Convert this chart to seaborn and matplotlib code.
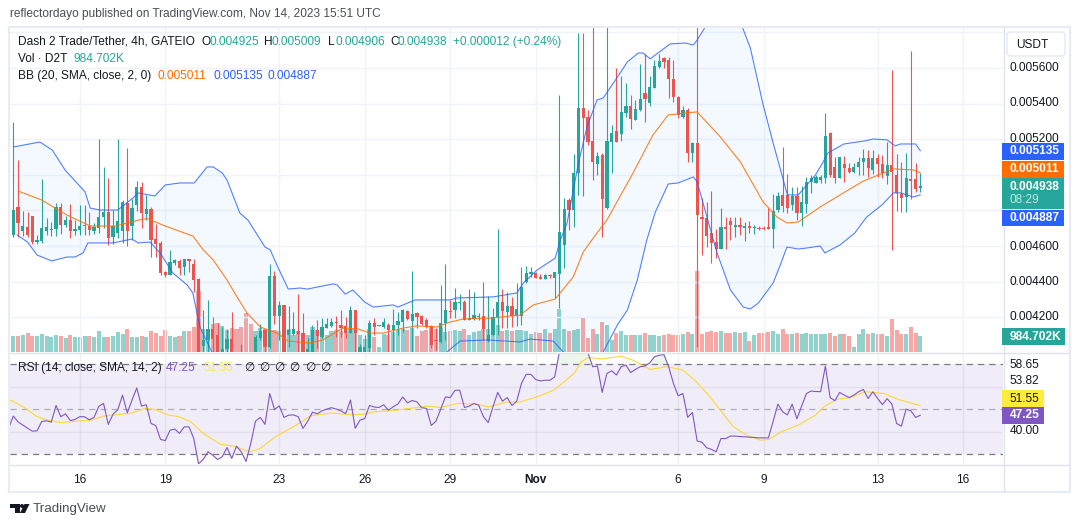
import numpy as np
import matplotlib
matplotlib.use("Agg")
import matplotlib.pyplot as plt
from matplotlib.patches import Rectangle, FancyBboxPatch, Polygon, Circle
import seaborn as sns

# prices in millionths of a USDT, one row per 10 candles (4h bars)
opens = [4662,4817,4684,4707,4769,4622,4628,4684,4692,4695,
         4817,4718,4746,4684,4690,4714,4714,4684,4703,4763,
         4791,4649,4671,4684,4840,4712,4830,4930,4780,4808,
         4639,4615,4454,4437,4503,4516,4482,4527,4499,4415,
         4040,4072,4135,4100,4000,4019,4077,3980,3990,3950,
         3950,4000,4081,4128,4034,4431,4208,4268,4100,4107,
         4120,4109,4000,4000,4128,4090,4141,4150,4173,4156,
         4150,4113,4240,4000,4000,4025,4169,4150,4147,4158,
         4128,4156,4175,4237,4181,4222,4207,4184,4151,4072,
         4062,4169,4235,4240,4278,4284,4184,4190,4203,4207,
         4068,4100,4199,4284,4231,4265,4207,4207,4400,4443,
         4450,4428,4417,4432,4422,4443,4606,4859,4804,5012,
         5377,5327,5190,5061,5111,4812,5186,5246,5229,5349,
         5387,5308,5364,5462,5405,5486,5604,5655,5645,5538,
         5435,5327,5364,5121,5181,4761,4759,4671,4624,4585,
         4709,4741,4709,4718,4703,4712,4701,4703,4703,4705,
         4696,4802,4887,4887,4830,4883,4784,4836,4958,4952,
         4971,4980,5237,5042,4984,5061,5036,5014,5042,5070,
         5093,5027,5093,5061,4995,5055,4999,4892,4877,4977,4977,4925]
highs = [5297,5083,4799,4789,4769,4662,4976,4755,4737,4840,
         4840,4769,4836,4746,4828,4828,4793,4727,5201,5044,
         4982,4802,5201,4858,5150,4862,4965,4958,4887,4817,
         4724,4628,4460,4577,4529,4525,4529,4529,4527,4420,
         4240,4297,4199,4165,4147,4132,4227,4000,4047,3960,
         3960,4100,4162,4132,4499,4459,4293,4268,4263,4227,
         4330,4222,4081,4156,4184,4193,4193,4193,4208,4240,
         4203,4263,4240,4050,4100,4184,4194,4155,4194,4165,
         4246,4231,4246,4240,4460,4231,4212,4194,4156,4138,
         4381,4499,4297,4362,4330,4297,4358,4340,4222,4396,
         4321,4250,4694,4357,4343,4315,4394,4484,4488,4484,
         4454,4443,4440,4440,4456,5449,4868,4868,5115,5799,
         5799,5364,5900,5126,5121,5900,5280,5602,5552,5514,
         5449,5420,5623,5677,5552,5645,5677,5664,5664,5645,
         5443,5387,5374,5186,5900,4868,4845,4909,4694,4812,
         4765,4765,4765,4765,4737,4741,4718,4712,4710,4812,
         4892,4902,5158,5005,4933,4933,4937,4990,4999,4999,
         4999,5349,5241,5102,5098,5106,5065,5065,5102,5143,
         5140,5140,5117,5111,5186,5589,5117,5074,5121,5696,5065,5009]
lows = [4652,4652,4656,4652,4611,4611,4619,4662,4658,4658,
        4667,4705,4647,4662,4662,4662,4662,4667,4671,4699,
        4606,4611,4643,4619,4600,4634,4799,4703,4746,4540,
        4536,4437,4424,4437,4493,4437,4437,4456,4343,3980,
        3980,3980,3980,3980,3980,3980,3980,3940,3940,3930,
        3930,3980,4072,3980,4025,4162,4072,3980,4034,4100,
        3980,3980,3980,3980,4025,4081,4137,4147,4090,4090,
        4085,4109,3980,3980,3980,3980,4100,4148,4138,3980,
        3980,4100,4119,4184,3980,4138,4156,4138,4025,4016,
        4053,4072,4194,4194,4240,4184,4184,4184,4184,4072,
        4062,4100,4100,4138,4138,4147,4151,4156,4390,4428,
        4420,4415,4415,4422,4306,4250,4475,4690,4709,4887,
        4883,5168,4971,4999,4653,4808,5012,5186,5192,5327,
        5258,5308,5360,5299,5387,5486,5598,5598,5434,5411,
        5317,5321,5074,5070,4034,4550,4596,4503,4531,4581,
        4581,4634,4652,4662,4628,4671,4667,4690,4692,4694,
        4587,4793,4793,4787,4802,4746,4714,4787,4896,4952,
        4952,4956,4990,4952,4984,4958,5012,5008,4999,4999,
        4990,5005,4990,4984,4948,4578,4797,4793,4791,4864,4905,4906]
closes = [4802,4731,4712,4662,4621,4634,4701,4707,4695,4817,
          4718,4746,4686,4695,4712,4718,4690,4709,4763,4791,
          4647,4712,4740,4847,4686,4813,4930,4787,4808,4634,
          4611,4450,4437,4510,4521,4478,4527,4518,4409,3990,
          4072,4135,4077,3990,4019,4077,3990,3950,3960,3940,
          3940,4090,4124,4034,4431,4208,4268,3990,4128,4134,
          4105,3990,4021,4128,4096,4147,4162,4173,4165,4141,
          4113,4240,4110,4031,4034,4166,4147,4153,4173,4128,
          4156,4179,4240,4190,4218,4203,4162,4143,4044,4068,
          4169,4240,4231,4284,4284,4184,4194,4212,4207,4134,
          4100,4199,4284,4235,4265,4207,4246,4372,4447,4456,
          4422,4417,4435,4430,4452,4677,4808,4802,5008,5377,
          5321,5186,5074,5108,4864,5190,5233,5186,5351,5387,
          5314,5370,5426,5426,5495,5612,5640,5636,5538,5435,
          5336,5364,5121,5181,4774,4752,4656,4615,4581,4709,
          4696,4718,4718,4709,4712,4701,4705,4697,4698,4697,
          4799,4883,4827,4812,4881,4784,4849,4958,4980,4986,
          4986,5220,5000,4984,5098,5040,5018,5042,5070,5093,
          5036,5093,5061,5008,5055,5018,4896,4872,4980,4965,4920,4938]

# volume in thousands of D2T
volumes = [1008,1008,1071,1197,1008,1008,1134,1008,945,1071,
           1008,882,1071,945,945,1008,1008,945,1323,945,
           945,1008,1260,1134,1449,945,945,1008,945,1323,
           1197,1008,1386,1008,945,1008,1323,1323,1575,3843,
           1449,1386,1764,1827,1638,1386,1533,1449,1575,2436,
           1764,1323,1491,1428,1386,1386,1323,1386,1449,1071,
           1302,1197,1071,1596,1386,966,1071,1323,1386,1323,
           1302,1449,1491,1050,840,1470,945,315,1155,1050,
           1260,1365,1470,1407,1533,987,1302,1365,1617,1470,
           1575,1260,1302,1365,1302,1428,1050,1260,1302,1428,
           1470,1470,1680,1302,1365,1302,1365,1365,1302,1155,
           1260,1218,1470,1218,1470,2730,1470,1302,1365,1428,
           2205,882,1470,1155,1890,1680,777,1197,1302,1092,
           1050,1050,1050,1197,1050,1050,987,1050,1113,1050,
           1092,1113,1260,1113,5103,1113,1260,1323,1260,1302,
           1197,1197,1260,1197,1260,672,1092,1218,1218,1260,
           1302,1113,1428,1155,1155,1197,1155,1197,1155,1113,
           1113,1155,1197,987,1113,1113,987,315,1155,1428,
           1155,1218,1113,1113,1008,2058,1365,1155,1113,1554,1218,985]

# Bollinger lines read at their bends: candle number, price
bb_upper_at = [0,5.6,8.2,10.9,15.1,16.2,18.3,22,25.2,26.3,29.8,32,35.1,38.1,40.8,42.1,44,45,47.7,49.4,
               53,54.1,55.7,57.9,60.4,61.9,67.3,68.2,69.9,71.5,74,75.8,80,81,84.6,92,93.4,101,106,107.4,
               110.3,114.1,115.2,116.6,119,120.8,122.9,124.2,127.1,129.3,131.6,132.6,134.1,138.3,141.5,143.2,144,145.7,149.5,153.5,
               155.2,157.9,160,163,165.3,168.9,170.4,171.5,174.9,179.2,181.1,184,185.7,186.8,190,191]
bb_upper = [5156,5184,5139,5027,4904,4813,4802,4802,4870,4898,4881,4943,4954,4954,5044,5044,5010,4971,4785,4746,
            4594,4578,4482,4358,4364,4358,4387,4381,4330,4353,4285,4257,4269,4257,4297,4297,4308,4314,4336,4392,
            4465,4532,4634,4729,5066,5269,5420,5431,5544,5634,5684,5684,5651,5735,5740,5729,5757,5830,6010,5830,
            5712,5392,5179,4887,4887,4999,5066,5122,5173,5190,5201,5196,5162,5173,5173,5135]
bb_basis_at = [1,6,8.4,11.3,16.2,21.4,25,27.3,28.4,32,37.8,40,42.1,45,47.1,49.2,52,55.5,57.9,62.5,
               65.2,69.4,72.6,75.1,77.9,82.1,85,89.2,92,94.7,101,106.7,109.5,114.1,117.9,120,122.9,125,130.5,134.7,
               137.9,141.5,144,148.9,153.1,157.9,160.8,162.9,165.3,169.9,174.8,179,183.2,185.3,189.5,191]
bb_basis = [4909,4858,4819,4774,4712,4712,4735,4752,4752,4712,4656,4578,4521,4409,4314,4224,4145,4111,4066,4055,
            4072,4139,4134,4111,4111,4139,4151,4145,4173,4190,4196,4212,4269,4302,4426,4566,4673,4746,5010,5224,
            5336,5347,5353,5212,5072,4847,4763,4729,4735,4819,4898,4965,5010,5033,5027,5011]
bb_lower_at = [0.8,3,5,8.1,11.3,13,14.7,15.7,21,25,26.3,28.8,30.9,33.6,36.6,37.8,39.3,41.8,46,52,
               60,70,80,90,91.3,94.1,99.8,106.7,108.8,113.7,115.8,120,124.2,127.2,129.3,131.4,133.4,135.2,137.9,140,
               143.2,144,146.7,148.2,151,153.7,155.2,156.9,160,161.5,162.9,165.3,167.2,169.9,170.9,174.1,177.2,179.7,182.9,185.3,
               186.8,189.5,191]
bb_lower = [4662,4622,4549,4516,4538,4538,4561,4617,4617,4639,4617,4622,4561,4448,4381,4336,4145,4004,3750,3620,
            3650,3800,3880,3960,4004,4066,4072,4061,4077,4066,4004,3880,4004,4156,4240,4409,4634,4791,4948,4954,
            4988,4960,4701,4560,4353,4257,4246,4280,4392,4493,4594,4583,4589,4600,4561,4606,4673,4763,4830,4898,
            4898,4875,4887]

# RSI per candle, first value is the bar just left of the first candle
rsi = [41.4,46.9,44.3,42.9,41.5,40.2,40.3,44.5,44.8,44.2,51.6,46.6,47.9,44.9,45.4,46.6,46.6,45.2,46.3,51.2,
       52.5,43.2,47.7,49.7,56.2,48.3,54.0,59.4,51.3,51.9,43.6,42.7,36.5,36.0,40.6,41.1,39.2,42.1,42.1,36.9,
       25.7,27.6,31.0,29.5,27.6,28.8,32.9,28.1,33.5,31.0,26.7,34.7,44.6,46.3,43.2,56.9,49.8,51.4,46.3,47.3,
       47.4,46.6,41.4,44.6,48.6,47.9,49.2,50.0,50.6,50.0,49.2,48.0,54.0,41.5,45.1,45.8,51.6,50.9,50.7,51.9,
       49.5,51.0,52.3,55.4,52.8,53.8,53.2,50.6,50.3,42.7,44.6,50.0,55.4,55.1,58.3,58.4,50.7,51.3,52.5,51.7,
       46.6,44.0,51.0,57.4,53.5,55.1,51.6,53.5,61.4,65.4,65.4,63.1,62.5,62.8,62.8,64.3,75.5,78,77,80,
       82,78,75.0,68.8,69.1,57.4,65.8,67.0,65.1,68.8,69.5,66.2,67.6,68.8,69.1,70.5,73.2,73.9,74.2,68.8,
       61.4,55.9,56.9,46.3,48.5,35.8,35.3,32.8,32.1,31.0,36.9,36.9,38.0,38.0,37.8,37.7,37.5,37.4,37.2,37.2,
       37.2,44.6,52.2,48.8,47.4,52.2,45.7,51.3,56.9,58.0,57.8,57.7,69.1,55.1,53.7,57.4,56.2,55.1,56.2,57.7,
       58.7,54.7,57.7,54.7,52.0,54.6,52.2,43.6,42.4,50.0,49.2,46.3,47.25]
rsi_ma_at = [-0.6,0.8,2.6,4.8,6.6,9.9,13.2,16.4,19,22.6,25.1,27.7,29.8,32.7,34.9,37.4,40,43.6,46.5,49.8,
             52,55.2,59.6,62.5,66.8,69.7,73.3,76.2,80.6,83.5,87.1,90,93.6,97.3,100.2,103.8,106.7,110.9,113.8,116,
             118.2,119.6,121.1,124,127.9,130.5,134.1,137.7,141,143.5,146.4,151.5,154.4,157.3,159.1,161.7,165.3,168.9,170.7,173.3,
             176.2,179.4,183.4,186.3,191]
rsi_ma = [54.0,52.5,50.3,46.9,45.4,44.0,44.6,45.1,46.9,47.7,48.3,50.3,49.8,47.3,46.6,44.3,39.2,34.4,33.5,31.0,
          32.5,37.7,42.9,46.9,48.3,47.7,47.6,48.8,49.5,50.3,51.3,50.7,52.5,52.2,51.0,53.1,53.1,55.9,58.4,62.1,
          66.1,71.0,72.9,72.3,73.5,71.7,67.6,68.8,67.3,62.8,56.2,42.4,38.4,36.2,36.5,39.9,42.9,47.3,51.0,54.3,
          55.1,57.7,56.9,54.3,51.55]

price_levels = [4200,4400,4600,4800,5000,5200,5400,5600,5800]
price_labels = ["0.005600","0.005400","0.005200","0.004600","0.004400","0.004200"]
day_ticks = [14,32,56,74,92,110,140,158,182,200]
day_labels = ["16","19","23","26","29","Nov","6","9","13","16"]

UP = "#26a69a"
DOWN = "#ef5350"
BLUE = "#2962ff"
ORANGE = "#ff6d00"
PURPLE = "#7e57c2"
YELLOW = "#ffeb3b"
INK = "#131722"
GRID = "#f0f3fa"
W, H = 1080, 527

sns.set_theme(style="white")
plt.rcParams["font.family"] = ["Liberation Sans", "DejaVu Sans"]

fig = plt.figure(figsize=(W / 100, H / 100), dpi=100, facecolor="white")


def pane(left, top, right, bottom, z):
    a = fig.add_axes([left / W, 1 - bottom / H, (right - left) / W, (bottom - top) / H], zorder=z)
    a.patch.set_visible(False)
    sns.despine(ax=a, left=True, bottom=True)
    return a


xlim = (-0.695, 208.4)
idx = np.arange(len(opens))
o, h, l, c = [np.array(v, dtype=float) for v in (opens, highs, lows, closes)]
rising = c >= o

# volume sits behind the candles with its own scale
ax_vol = pane(10, 27, 1003, 352, 1)
sns.barplot(x=idx, y=volumes, hue=np.where(rising, "up", "down"), palette={"up": UP, "down": DOWN},
            native_scale=True, dodge=False, width=0.85, alpha=0.5, saturation=1, legend=False, linewidth=0, ax=ax_vol)
ax_vol.set(xlim=xlim, ylim=(0, 20425), xticks=[], yticks=[], xlabel="", ylabel="")

ax = pane(10, 27, 1003, 352, 2)
ax.set(xlim=xlim, ylim=(4004.5, 5830), xlabel="", ylabel="")
ax.set_yticks(price_levels)
ax.set_xticks(day_ticks)
ax.grid(True, color=GRID, lw=1)
ax.set_axisbelow(True)
ax.tick_params(length=0, labelleft=False, labelbottom=False)

ax.fill(np.r_[bb_upper_at, bb_lower_at[::-1]], np.r_[bb_upper, bb_lower[::-1]],
        color="#2196f3", alpha=0.05, lw=0, zorder=1)
colors = np.where(rising, UP, DOWN)
ax.vlines(idx, l, h, colors=colors, lw=0.8, zorder=3)
ax.bar(idx, np.maximum(np.abs(c - o), 5), bottom=np.minimum(o, c), width=0.68, color=colors, lw=0, zorder=4)
sns.lineplot(x=bb_upper_at, y=bb_upper, color="#2962ff", lw=0.8, alpha=0.8, sort=False, estimator=None, ax=ax, zorder=5)
sns.lineplot(x=bb_lower_at, y=bb_lower, color="#2962ff", lw=0.8, alpha=0.8, sort=False, estimator=None, ax=ax, zorder=5)
sns.lineplot(x=bb_basis_at, y=bb_basis, color=ORANGE, lw=0.8, alpha=0.85, sort=False, estimator=None, ax=ax, zorder=5)
ax.set(xlabel="", ylabel="")

# RSI pane
ax_rsi = pane(10, 353, 1003, 464, 3)
rsi_x = np.arange(-1, len(rsi) - 1)
rsi_v = np.array(rsi)
ax_rsi.set(xlim=xlim, ylim=(25.6, 74.9))
ax_rsi.axhspan(30, 70, color=PURPLE, alpha=0.1, lw=0, zorder=0)
ax_rsi.set_yticks([40, 60])
ax_rsi.set_xticks(day_ticks, labels=day_labels)
ax_rsi.grid(True, color="#131722", alpha=0.06, lw=1)
ax_rsi.set_axisbelow(True)
ax_rsi.tick_params(axis="x", length=0, pad=7, labelsize=8.6, colors=INK)
ax_rsi.tick_params(axis="y", length=0, labelleft=False)
ax_rsi.get_xticklabels()[5].set_fontweight("bold")
ax_rsi.axhline(70, color="#787b86", lw=0.9, dashes=(5, 4), zorder=1)
ax_rsi.axhline(50, color="#787b86", alpha=0.55, lw=0.9, dashes=(5, 4), zorder=1)
ax_rsi.axhline(30, color="#787b86", lw=0.9, dashes=(5, 4), zorder=1)
ax_rsi.fill_between(rsi_x, rsi_v, 70, where=rsi_v > 70, interpolate=True, color="#4caf50", alpha=0.1, lw=0)
ax_rsi.fill_between(rsi_x, rsi_v, 30, where=rsi_v < 30, interpolate=True, color="#ef5350", alpha=0.07, lw=0)
sns.lineplot(x=rsi_ma_at, y=rsi_ma, color="#fdd835", lw=0.8, sort=False, estimator=None, ax=ax_rsi, zorder=3)
sns.lineplot(x=rsi_x, y=rsi, color=PURPLE, lw=0.8, sort=False, estimator=None, ax=ax_rsi, zorder=4)
ax_rsi.set(xlabel="", ylabel="")

# page furniture in pixel coordinates
page = fig.add_axes([0, 0, 1, 1], zorder=5)
page.set(xlim=(0, W), ylim=(H, 0))
page.axis("off")


def txt(x, y, s, color=INK, size=8.6, **kw):
    page.text(x, y, s, color=color, fontsize=size, va="center", **kw)


def tag(x0, x1, y0, y1, color, label, label_color="white", bold=True):
    # boxes cover the axis labels beneath them, their own text stays on top
    page.add_patch(Rectangle((x0, y0), x1 - x0, y1 - y0, color=color, lw=0, zorder=4))
    page.text(1010, y0 + 8.5, label, color=label_color, fontsize=8.6, va="center",
              fontweight="bold" if bold else "normal", zorder=5)


# chart frame and pane separators
page.add_patch(Rectangle((9, 26.5), 1061, 465, fill=False, ec="#e9ecf3", lw=1.6))
page.plot([10, 1069], [352.5, 352.5], color="#e0e3eb", lw=1)
page.plot([10, 1069], [464.5, 464.5], color="#e0e3eb", lw=1)
page.plot([1003.5, 1003.5], [27, 491], color="#e0e3eb", lw=1)

txt(10, 14.5, "reflectordayo published on TradingView.com, Nov 14, 2023 15:51 UTC", color="#4a4d57")

txt(18, 42, "Dash 2 Trade/Tether, 4h, GATEIO")
for x, s in [(201, "O"), (264, "H"), (328, "L"), (390, "C")]:
    txt(x, 42, s)
for x, s in [(209, "0.004925"), (272, "0.005009"), (336, "0.004906"), (397, "0.004938"), (453, "+0.000012 (+0.24%)")]:
    txt(x, 42, s, color=UP)
txt(18, 59, "Vol · D2T")
txt(74, 59, "984.702K", color=UP)
txt(18, 76, "BB (20, SMA, close, 2, 0)")
txt(157, 76, "0.005011", color=ORANGE)
txt(213, 76, "0.005135", color=BLUE)
txt(268, 76, "0.004887", color=BLUE)

txt(18, 368, "RSI (14, close, SMA, 14, 2)")
txt(166, 368, "47.25", color=PURPLE)
txt(203, 368, "51.55", color=YELLOW)
for x in [244, 259, 274, 289, 305, 320]:
    txt(x, 368, "∅")

# price scale
page.add_patch(FancyBboxPatch((1007, 32), 58, 24, boxstyle="round,pad=0,rounding_size=3",
                              fc="white", ec="#e9ecf3", lw=1.2))
txt(1016, 45, "USDT")
for y, s in zip([68, 103.5, 139, 246.5, 282, 317.5], price_labels):
    txt(1010, y, s)
tag(1002, 1064, 143, 160, BLUE, "0.005135")
tag(1002, 1064, 161, 177.5, ORANGE, "0.005011")
tag(1002, 1064, 178, 209, UP, "0.004938")
page.text(1010, 200, "08:29", color="#bfe6e2", fontsize=8.6, va="center", zorder=5)
tag(1002, 1064, 209.5, 226, BLUE, "0.004887")
tag(1002, 1065, 328, 345, UP, "984.702K")

# RSI scale
txt(1010, 364.5, "58.65")
txt(1010, 381.5, "53.82")
tag(1002, 1044, 390, 407, YELLOW, "51.55", label_color=INK, bold=False)
tag(1002, 1044, 407, 423.5, PURPLE, "47.25")
txt(1010, 431.5, "40.00")

# footer logo and wordmark
page.add_patch(Polygon([(10, 504), (19.5, 504), (19.5, 513), (15, 513), (15, 508), (10, 508)], color=INK, lw=0))
page.add_patch(Circle((22, 506), 2, color=INK, lw=0))
page.add_patch(Polygon([(24.5, 504), (29.5, 504), (25, 513), (20, 513)], color=INK, lw=0))
txt(33, 509, "TradingView", color="#4a4d57", size=9.6)

fig.savefig("out.png", dpi=100)
